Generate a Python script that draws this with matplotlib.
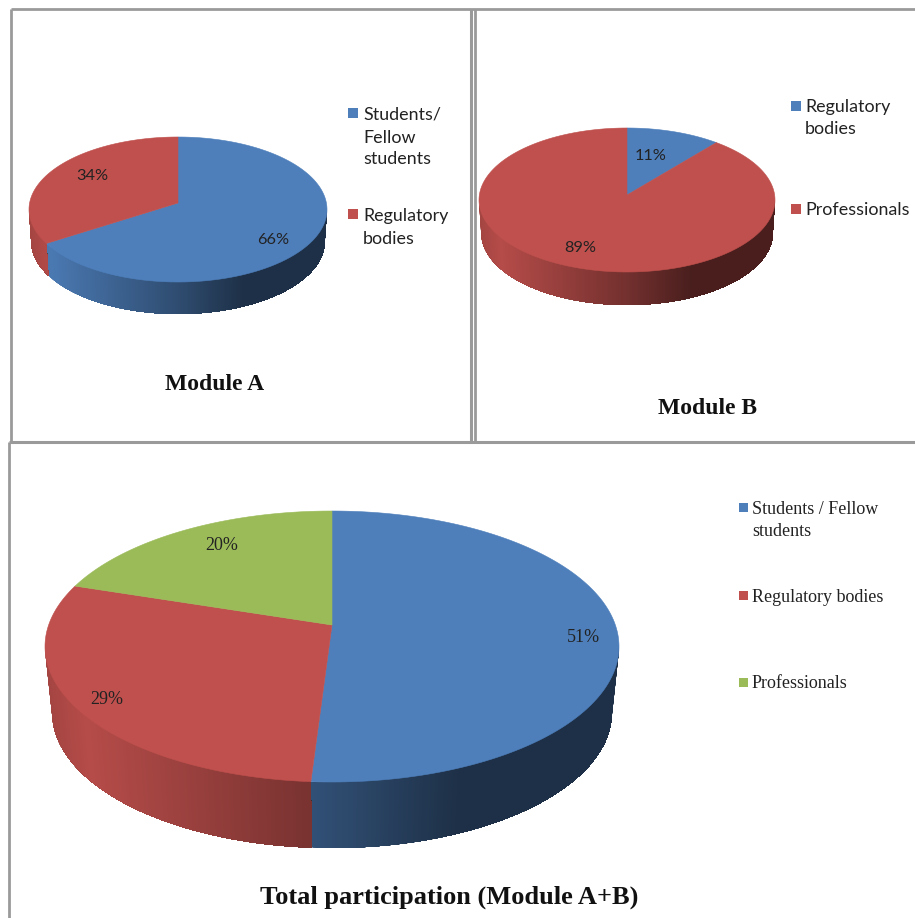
import numpy as np
import matplotlib
matplotlib.use("Agg")
import matplotlib.pyplot as plt
from matplotlib.patches import Rectangle

# Chart data
module_a_values = [66, 34]
module_a_labels = ["66%", "34%"]
module_b_values = [11, 89]
module_b_labels = ["11%", "89%"]
total_values = [51, 29, 20]
total_labels = ["51%", "29%", "20%"]

BLUE = "#4e7fbb"
RED = "#bf504d"
GREEN = "#9bbb59"
FRAME = "#9a9a9a"

module_a_colors = [BLUE, RED]
module_b_colors = [BLUE, RED]
total_colors = [BLUE, RED, GREEN]

SANS = "Lato"
SERIF = "Liberation Serif"

fig = plt.figure(figsize=(9.15, 9.18), dpi=100)
ax = fig.add_axes([0, 0, 1, 1])
ax.set_xlim(0, 915)
ax.set_ylim(918, 0)
ax.axis("off")


def shade(color, t):
    # side wall goes darker from left to right
    f = np.interp(t, [0, 0.07, 0.5, 0.72, 1], [0.86, 0.95, 0.6, 0.38, 0.38])
    return tuple(c * f for c in matplotlib.colors.to_rgb(color))


def pie3d(values, colors, cx, cy, rx, top, bottom, depth, shrink):
    k = (bottom - top) / (bottom + top)
    a = top * (1 + k)
    b = rx * np.sqrt(1 - k ** 2)

    def project(theta):
        d = 1 + k * np.cos(theta)
        return cx + b * np.sin(theta) / d, cy - a * np.cos(theta) / d

    edges = np.cumsum([0] + list(values)) / sum(values) * 2 * np.pi

    # walls first, each wedge painted from its left end so strips overlap
    grid = np.linspace(0, 2 * np.pi, 1441)
    xs, ys = project(grid)
    start, end = grid[np.argmax(xs)], grid[np.argmin(xs)]
    for i in range(len(values)):
        lo, hi = max(edges[i], start), min(edges[i + 1], end)
        if hi <= lo:
            continue
        sweep = np.linspace(lo, hi, 300)
        xf, yf = project(sweep)
        xb = cx + (xf - cx) * shrink
        yb = yf + depth
        # strip j runs from the wedge's right end up to sweep[j]
        for j in range(len(sweep) - 1, 0, -1):
            t = (xf[j] - (cx - rx)) / (2 * rx)
            c = shade(colors[i], t)
            ax.fill(np.r_[xf[:j + 1], xb[j::-1]], np.r_[yf[:j + 1], yb[j::-1]],
                    color=c, lw=0, zorder=2 + i * 0.01)

    # top face
    for i in range(len(values)):
        th = np.linspace(edges[i], edges[i + 1], 200)
        x, y = project(th)
        ax.fill(np.r_[cx, x], np.r_[cy, y], color=colors[i], lw=0.4, zorder=3)


def legend_entry(x, y, size, color, lines, text_x, line_ys, font, fontsize):
    ax.add_patch(Rectangle((x, y), size, size, facecolor=color, edgecolor="none", zorder=4))
    for line, ly in zip(lines, line_ys):
        ax.text(text_x, ly + 2, line, family=font, fontsize=fontsize, color="#222222",
                va="center", ha="left", zorder=5)


# frames
for xs, ys, lw in [
    ([11, 11], [9, 442], 2.0),
    ([11, 915], [9, 9], 2.0),
    ([471, 471], [9, 442], 2.2),
    ([474.5, 474.5], [9, 442], 2.0),
    ([9, 915], [442, 442], 2.2),
    ([9, 9], [442, 918], 2.0),
]:
    ax.plot(xs, ys, color=FRAME, lw=lw, solid_capstyle="butt", zorder=1)

# Module A
pie3d(module_a_values, module_a_colors, 178, 203, 149, 66, 79, 32, 0.985)
ax.text(273, 240, module_a_labels[0], family=SANS, fontsize=11.8, color="#222222",
        ha="center", va="center", zorder=6)
ax.text(92, 176, module_a_labels[1], family=SANS, fontsize=11.8, color="#222222",
        ha="center", va="center", zorder=6)
legend_entry(348, 108, 10, module_a_colors[0], ["Students/", "Fellow", "students"],
             363, [112, 136, 157], SANS, 12.9)
legend_entry(348, 209, 10, module_a_colors[1], ["Regulatory", "bodies"],
             363, [214, 237], SANS, 12.9)
ax.text(215, 385, "Module A", family=SERIF, fontsize=17, fontweight="bold",
        color="#111111", ha="center", va="center")

# Module B
pie3d(module_b_values, module_b_colors, 627, 195, 148, 67, 77, 33, 0.985)
ax.text(651, 156, module_b_labels[0], family=SANS, fontsize=11.8, color="#222222",
        ha="center", va="center", zorder=6)
ax.text(580, 248, module_b_labels[1], family=SANS, fontsize=11.8, color="#222222",
        ha="center", va="center", zorder=6)
legend_entry(791, 101, 10, module_b_colors[0], ["Regulatory", "bodies"],
             805, [105, 127], SANS, 12.9)
legend_entry(791, 204, 10, module_b_colors[1], ["Professionals"],
             805, [208], SANS, 12.9)
ax.text(707, 409, "Module B", family=SERIF, fontsize=17, fontweight="bold",
        color="#111111", ha="center", va="center")

# Total
pie3d(total_values, total_colors, 332, 625, 287, 114, 157, 66, 0.975)
ax.text(583, 638, total_labels[0], family=SERIF, fontsize=13, color="#222222",
        ha="center", va="center", zorder=6)
ax.text(107, 699, total_labels[1], family=SERIF, fontsize=13, color="#222222",
        ha="center", va="center", zorder=6)
ax.text(222, 546, total_labels[2], family=SERIF, fontsize=13, color="#222222",
        ha="center", va="center", zorder=6)
legend_entry(739, 503, 9, total_colors[0], ["Students / Fellow", "students"],
             752, [508, 529], SERIF, 13)
legend_entry(739, 591, 9, total_colors[1], ["Regulatory bodies"],
             752, [595], SERIF, 13)
legend_entry(739, 678, 9, total_colors[2], ["Professionals"],
             752, [682], SERIF, 13)
ax.text(449, 897, "Total participation (Module A+B)", family=SERIF, fontsize=19,
        fontweight="bold", color="#111111", ha="center", va="center")

fig.savefig("out.png", dpi=100, facecolor="white")
